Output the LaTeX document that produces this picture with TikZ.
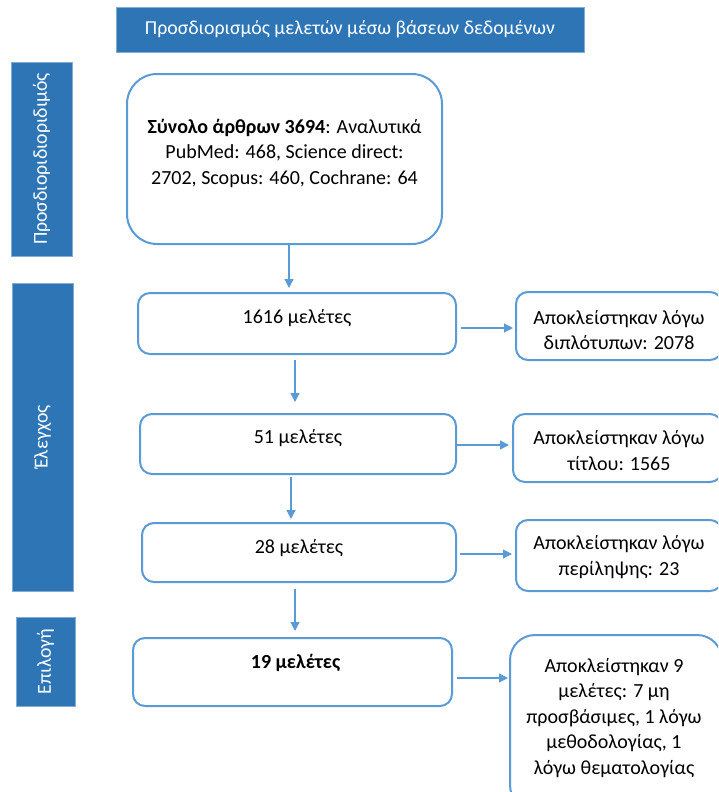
\documentclass[tikz,border=0pt]{standalone}
\usepackage{fontspec}
\setmainfont{Carlito}
\usetikzlibrary{arrows.meta}
\definecolor{barblue}{HTML}{2E75B6}
\definecolor{linblue}{HTML}{5B9BD5}
\definecolor{txtgray}{HTML}{000000}
\begin{document}
\begin{tikzpicture}[x=1pt,y=-1pt,
  bar/.style={fill=barblue, draw=barblue!60!white, line width=0.6pt, text=white, inner sep=0pt, font=\fontsize{19.8}{22}\selectfont},
  box/.style={draw=linblue, line width=2pt, fill=white, inner sep=0pt, rounded corners=12pt},
  txt/.style={align=center, inner sep=0pt, text=txtgray, font=\fontsize{20}{25.5}\selectfont},
  arr/.style={draw=linblue, line width=1.2pt, -{Triangle[length=9pt,width=9pt]}}]
\useasboundingbox (0,0) rectangle (718,792);
\clip (0,0) rectangle (718,792);
% banner and side bars
\node[bar, minimum width=468pt, minimum height=45pt] (T) at (350,29.5) {Προσδιορισμός μελετών μέσω βάσεων δεδομένων};
\node[bar, rotate=90, minimum width=194pt, minimum height=61pt] (S1) at (41.5,159) {Προσδιοριδιοριδιμός};
\node[bar, rotate=90, minimum width=308pt, minimum height=61pt] (S2) at (42.5,437) {Έλεγχος};
\node[bar, rotate=90, minimum width=89pt, minimum height=59pt] (S3) at (45.5,661.5) {Επιλογή};
% main boxes
\node[box, rounded corners=30pt, minimum width=315pt, minimum height=170pt] (A) at (284.5,159) {};
\node[txt] (At) at ([yshift=6pt]A.center) {\textbf{Σύνολο άρθρων 3694}: Αναλυτικά\\PubMed: 468, Science direct:\\2702, Scopus: 460, Cochrane: 64};
\node[box, minimum width=318pt, minimum height=61pt] (B) at (297,323.5) {};
\node[txt] (Bt) at ([yshift=5.5pt]B.center) {1616 μελέτες};
\node[box, minimum width=316pt, minimum height=60pt] (C) at (298,444) {};
\node[txt] (Ct) at ([yshift=6pt]C.center) {51 μελέτες};
\node[box, minimum width=314pt, minimum height=59pt] (D) at (299,552.5) {};
\node[txt] (Dt) at ([yshift=4.5pt]D.center) {28 μελέτες};
\node[box, minimum width=319pt, minimum height=68pt] (E) at (292.5,672) {};
\node[txt] (Et) at ([xshift=3pt,yshift=9pt]E.center) {\textbf{19 μελέτες}};
% right boxes
\node[box, minimum width=206pt, minimum height=68pt] (R1) at (619,326) {};
\node[txt] (R1t) at ([yshift=-4pt]R1.center) {Αποκλείστηκαν λόγω\\διπλότυπων: 2078};
\node[box, minimum width=209pt, minimum height=68pt] (R2) at (617.5,448) {};
\node[txt] (R2t) at ([xshift=1.5pt,yshift=-2.5pt]R2.center) {Αποκλείστηκαν λόγω\\τίτλου: 1565};
\node[box, minimum width=206pt, minimum height=71pt] (R3) at (619,555.5) {};
\node[txt] (R3t) at ([yshift=-1.5pt]R3.center) {Αποκλείστηκαν λόγω\\περίληψης: 23};
\node[box, rounded corners=25pt, minimum width=212pt, minimum height=175pt] (R4) at (616,722.5) {};
\node[txt] (R4t) at ([xshift=-2pt,yshift=4.5pt]R4.center) {Αποκλείστηκαν 9\\μελέτες: 7 μη\\προσβάσιμες, 1 λόγω\\μεθοδολογίας, 1\\λόγω θεματολογίας};
% connectors
\draw[arr] ([xshift=4.5pt]A.south) -- ([xshift=-8pt,yshift=4pt]B.north);
\draw[arr] ([xshift=-2pt,yshift=-5pt]B.south) -- ([xshift=-3pt,yshift=11pt]C.north);
\draw[arr] ([xshift=-7pt,yshift=-2pt]C.south) -- ([xshift=-8pt,yshift=3pt]D.north);
\draw[arr] ([xshift=-4pt,yshift=-6pt]D.south) -- ([xshift=2.5pt,yshift=6pt]E.north);
\draw[arr] ([xshift=4pt,yshift=-4.5pt]B.east) -- ([xshift=-2pt,yshift=-2pt]R1.west);
\draw[arr] ([yshift=-1pt]C.east) -- ([xshift=-3pt,yshift=3pt]R2.west);
\draw[arr] ([xshift=3pt,yshift=-1.5pt]D.east) -- ([xshift=-3pt,yshift=1.5pt]R3.west);
\draw[arr] ([xshift=4pt,yshift=-6pt]E.east) -- ([xshift=-1pt,yshift=44.5pt]R4.west);
\end{tikzpicture}
\end{document}
